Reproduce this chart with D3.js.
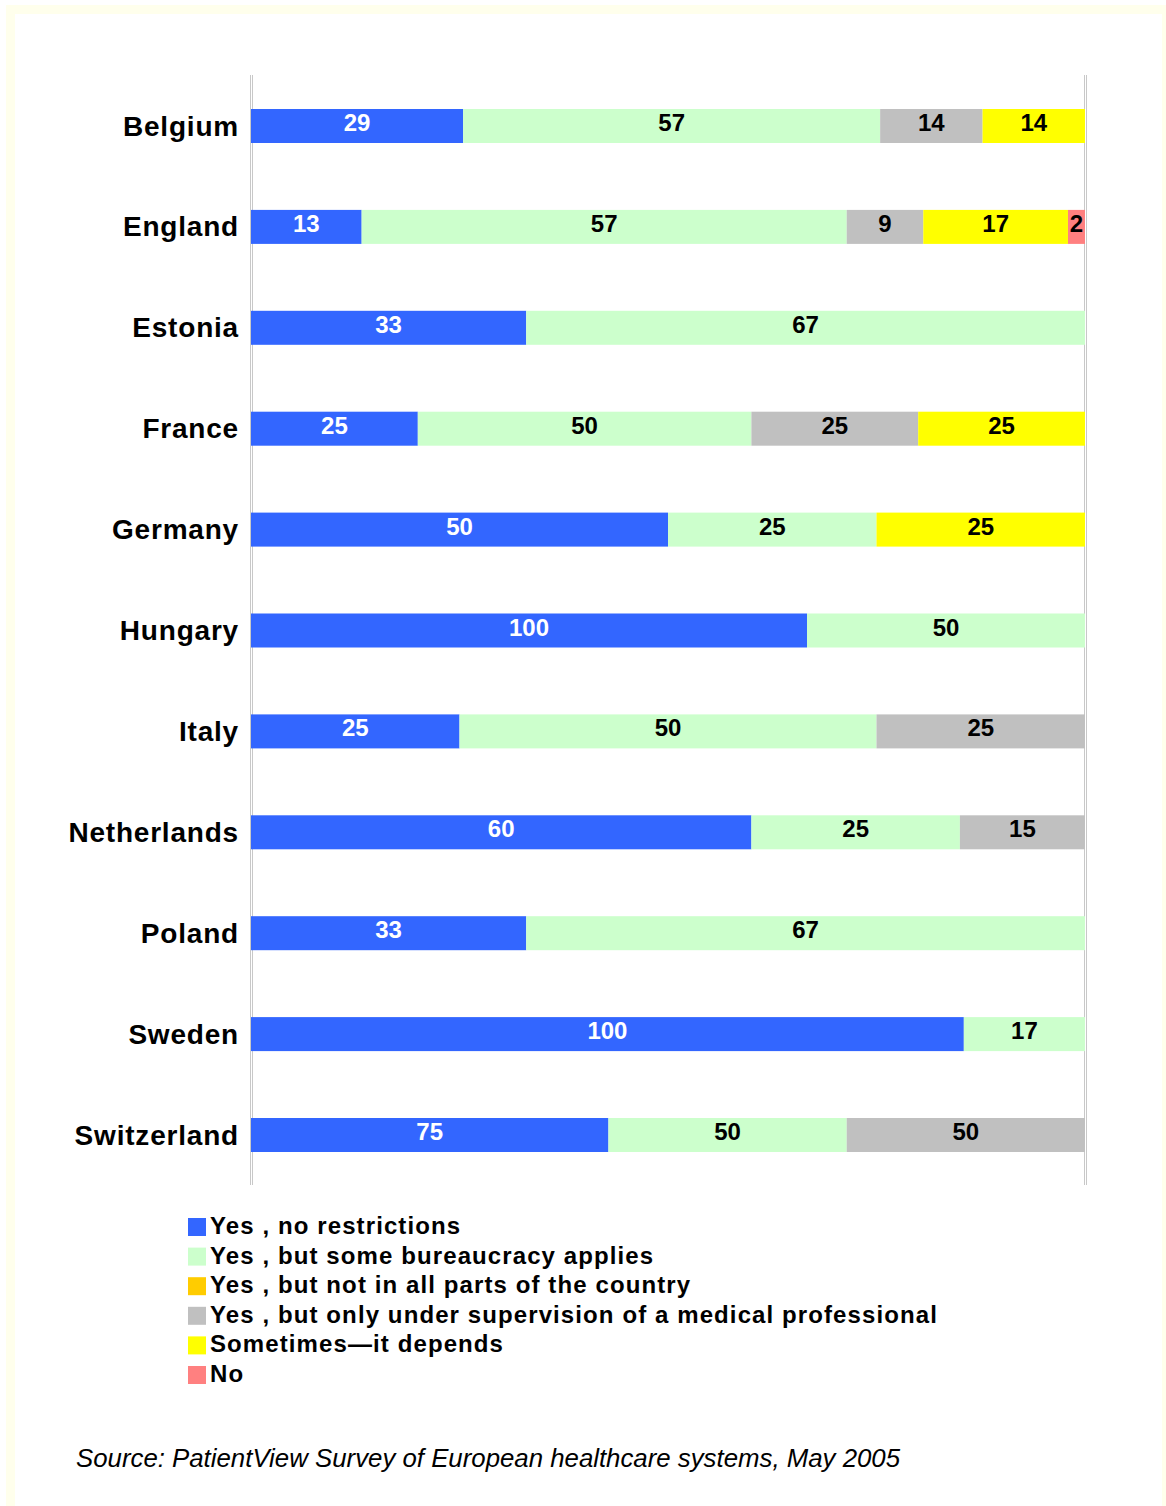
<!DOCTYPE html>
<html>
<head>
<meta charset="utf-8">
<script src="https://cdn.jsdelivr.net/npm/d3@7"></script>
<style>
  html, body { margin: 0; padding: 0; background: #ffffff; }
  svg { display: block; }
  text { font-family: "Liberation Sans", Arial, sans-serif; }
</style>
</head>
<body>
<svg id="chart" width="1166" height="1506"></svg>
<script>
// ---- data ----
const categories = ["Belgium", "England", "Estonia", "France", "Germany", "Hungary", "Italy", "Netherlands", "Poland", "Sweden", "Switzerland"];
const seriesNames = [
  "Yes , no restrictions",
  "Yes , but some bureaucracy applies",
  "Yes , but not in all parts of the country",
  "Yes , but only under supervision of a medical professional",
  "Sometimes\u2014it depends",
  "No"
];
const seriesColors = ["#3366FF", "#CCFFCC", "#FFCC00", "#C0C0C0", "#FFFF00", "#FF8080"];
const labelColors  = ["#FFFFFF", "#000000", "#000000", "#000000", "#000000", "#000000"];
const yesNoRestrictions = [29, 13, 33, 25, 50, 100, 25, 60, 33, 100, 75];
const yesBureaucracy    = [57, 57, 67, 50, 25, 50, 50, 25, 67, 17, 50];
const yesNotAllParts    = [0, 0, 0, 0, 0, 0, 0, 0, 0, 0, 0];
const yesSupervision    = [14, 9, 0, 25, 0, 0, 25, 15, 0, 0, 50];
const sometimesDepends  = [14, 17, 0, 25, 25, 0, 0, 0, 0, 0, 0];
const noValues          = [0, 2, 0, 0, 0, 0, 0, 0, 0, 0, 0];
const sourceText = "Source: PatientView Survey of European healthcare systems, May 2005";

const seriesValues = [yesNoRestrictions, yesBureaucracy, yesNotAllParts, yesSupervision, sometimesDepends, noValues];
const keys = seriesNames;
const rows = categories.map((c, i) => {
  const r = { category: c };
  keys.forEach((k, j) => { r[k] = seriesValues[j][i]; });
  return r;
});

// ---- drawing ----
const svg = d3.select("#chart");

// outer light frame
svg.append("rect")
  .attr("x", 10.5).attr("y", 9.5)
  .attr("width", 1156).attr("height", 1520)
  .attr("fill", "none")
  .attr("stroke", "#FFFFEC")
  .attr("stroke-width", 9);

const x = d3.scaleLinear().domain([0, 1]).range([251, 1085]);
const y = d3.scalePoint().domain(categories).range([126, 1135]);
const barH = 34;

const stack = d3.stack().keys(keys).offset(d3.stackOffsetExpand);
const stacked = stack(rows);

// gridlines at 0 and 100% (double thin lines)
const gridG = svg.append("g");
[0, 1].forEach(v => {
  [-1, 1].forEach(dx => {
    gridG.append("line")
      .attr("x1", x(v) + dx + 0.5).attr("x2", x(v) + dx + 0.5)
      .attr("y1", 75).attr("y2", 1185)
      .attr("stroke", "#C8C8C8").attr("stroke-width", 1);
  });
});

// bars
const layers = svg.append("g").selectAll("g")
  .data(stacked)
  .join("g")
  .attr("fill", (d, i) => seriesColors[i]);

layers.selectAll("rect")
  .data(d => d.map(p => ({ p, key: d.key })))
  .join("rect")
  .attr("x", d => x(d.p[0]))
  .attr("width", d => Math.max(0, x(d.p[1]) - x(d.p[0])))
  .attr("y", d => y(d.p.data.category) - barH / 2)
  .attr("height", barH);

// value labels
stacked.forEach((layer, si) => {
  svg.append("g").selectAll("text")
    .data(layer.filter(p => p.data[layer.key] > 0))
    .join("text")
    .attr("x", p => (x(p[0]) + x(p[1])) / 2)
    .attr("y", p => y(p.data.category) + 5)
    .attr("text-anchor", "middle")
    .attr("font-size", 24)
    .attr("font-weight", "bold")
    .attr("fill", labelColors[si])
    .text(p => p.data[layer.key]);
});

// category axis labels
const yAxis = d3.axisLeft(y).tickSize(0).tickPadding(0);
const yAxisG = svg.append("g")
  .attr("transform", "translate(239,0)")
  .call(yAxis);
yAxisG.select(".domain").remove();
yAxisG.selectAll("text")
  .attr("font-family", "Liberation Sans, Arial, sans-serif")
  .attr("font-size", 28)
  .attr("font-weight", "bold")
  .attr("fill", "#000")
  .attr("letter-spacing", "0.8px")
  .attr("dy", null)
  .attr("y", 9)
  .attr("x", 0);

// legend
const legend = svg.append("g");
const legendRows = legend.selectAll("g")
  .data(seriesNames)
  .join("g")
  .attr("transform", (d, i) => `translate(188, ${1218 + i * 29.6})`);
legendRows.append("rect")
  .attr("width", 18).attr("height", 18)
  .attr("fill", (d, i) => seriesColors[i]);
legendRows.append("text")
  .attr("x", 22).attr("y", 16)
  .attr("font-size", 24)
  .attr("font-weight", "bold")
  .attr("letter-spacing", "1.1px")
  .attr("fill", "#000")
  .text(d => d);

// source
svg.append("text")
  .attr("x", 76).attr("y", 1467)
  .attr("font-size", 25.8)
  .attr("font-style", "italic")
  .attr("fill", "#000")
  .text(sourceText);
</script>
</body>
</html>
